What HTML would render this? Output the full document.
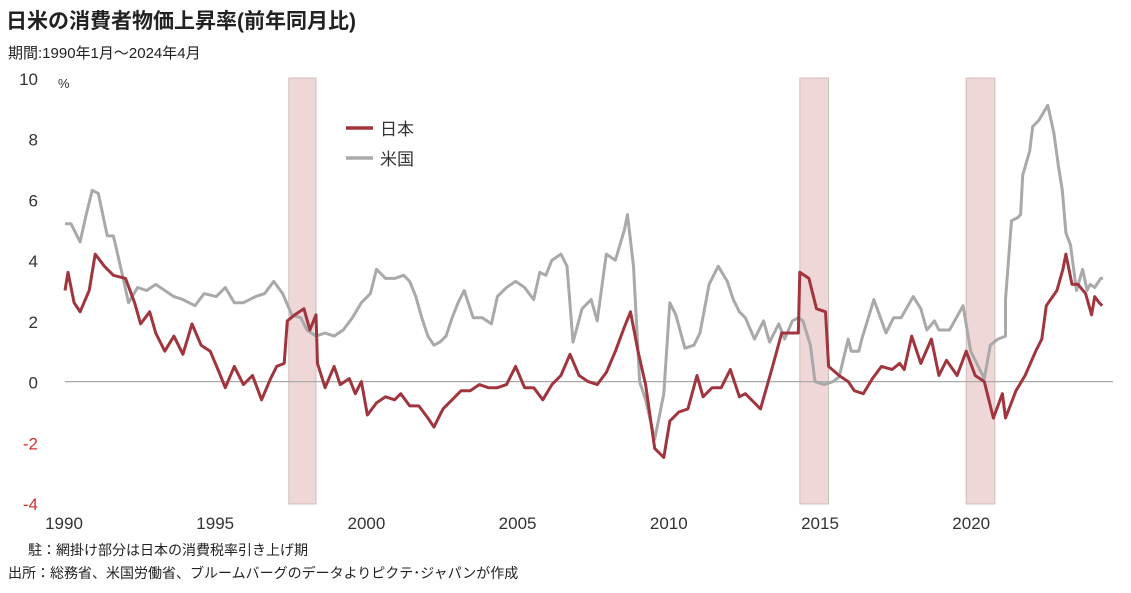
<!DOCTYPE html>
<html><head><meta charset="utf-8">
<style>
body{margin:0;background:#fff;width:1131px;height:588px;overflow:hidden;font-family:"Liberation Sans","Noto Sans CJK JP",sans-serif;}
svg text{font-family:"Liberation Sans","Noto Sans CJK JP",sans-serif;}
</style></head>
<body>
<svg id="chart" width="1131" height="588" viewBox="0 0 1131 588" xmlns="http://www.w3.org/2000/svg">
<text x="6" y="28" font-size="21" font-weight="bold" fill="#222">日米の消費者物価上昇率(前年同月比)</text>
<text x="8" y="58" font-size="15" fill="#222">期間:1990年1月～2024年4月</text>
<g id="bands"></g>
<g id="axes"></g>
<g id="series"></g>
<g>
<line x1="346" y1="128" x2="373" y2="128" stroke="#a0353d" stroke-width="3.5"/>
<text x="380" y="135" font-size="17" fill="#333">日本</text>
<line x1="346" y1="158" x2="373" y2="158" stroke="#aaa" stroke-width="3.5"/>
<text x="380" y="165" font-size="17" fill="#333">米国</text>
</g>
<text x="28" y="555" font-size="14" fill="#222">駐：網掛け部分は日本の消費税率引き上げ期</text>
<text x="8" y="578" font-size="14" fill="#222">出所：総務省、米国労働省、ブルームバーグのデータよりピクテ･ジャパンが作成</text>
</svg>
<script>
const yTicks=[10,8,6,4,2,0,-2,-4];
const xTicks=[1990,1995,2000,2005,2010,2015,2020];
const bands=[[1997.4,1998.3],[2014.3,2015.25],[2019.8,2020.75]];
const jpYears=[1990.0,1990.1,1990.3,1990.5,1990.8,1991.0,1991.3,1991.6,1992.0,1992.3,1992.5,1992.8,1993.0,1993.3,1993.6,1993.9,1994.2,1994.5,1994.8,1995.1,1995.3,1995.6,1995.9,1996.2,1996.5,1996.8,1997.0,1997.25,1997.35,1997.6,1997.9,1998.1,1998.3,1998.35,1998.6,1998.9,1999.1,1999.4,1999.6,1999.8,2000.0,2000.3,2000.6,2000.9,2001.1,2001.4,2001.7,2002.0,2002.2,2002.5,2002.8,2003.1,2003.4,2003.7,2004.0,2004.3,2004.6,2004.9,2005.2,2005.5,2005.8,2006.1,2006.4,2006.7,2007.0,2007.3,2007.6,2007.9,2008.2,2008.5,2008.7,2008.95,2009.2,2009.5,2009.8,2010.0,2010.3,2010.6,2010.9,2011.1,2011.4,2011.7,2012.0,2012.3,2012.5,2013.0,2013.4,2013.7,2014.25,2014.3,2014.6,2014.85,2015.15,2015.25,2015.6,2015.9,2016.1,2016.4,2016.7,2017.0,2017.35,2017.6,2017.75,2018.0,2018.3,2018.65,2018.9,2019.15,2019.5,2019.8,2020.1,2020.4,2020.7,2021.0,2021.1,2021.45,2021.75,2022.1,2022.3,2022.45,2022.8,2023.0,2023.1,2023.3,2023.5,2023.75,2023.95,2024.05,2024.2,2024.3];
const jpValues=[3.0,3.6,2.6,2.3,3.0,4.2,3.8,3.5,3.4,2.6,1.9,2.3,1.6,1.0,1.5,0.9,1.9,1.2,1.0,0.3,-0.2,0.5,-0.1,0.2,-0.6,0.1,0.5,0.6,2.0,2.2,2.4,1.7,2.2,0.6,-0.2,0.5,-0.1,0.1,-0.4,0.0,-1.1,-0.7,-0.5,-0.6,-0.4,-0.8,-0.8,-1.2,-1.5,-0.9,-0.6,-0.3,-0.3,-0.1,-0.2,-0.2,-0.1,0.5,-0.2,-0.2,-0.6,-0.1,0.2,0.9,0.2,0.0,-0.1,0.3,1.0,1.8,2.3,1.0,-0.1,-2.2,-2.5,-1.3,-1.0,-0.9,0.2,-0.5,-0.2,-0.2,0.4,-0.5,-0.4,-0.9,0.5,1.6,1.6,3.6,3.4,2.4,2.3,0.5,0.2,0.0,-0.3,-0.4,0.1,0.5,0.4,0.6,0.4,1.5,0.6,1.4,0.2,0.7,0.2,1.0,0.2,0.0,-1.2,-0.4,-1.2,-0.3,0.2,1.0,1.4,2.5,3.0,3.7,4.2,3.2,3.2,2.9,2.2,2.8,2.6,2.5];
const usYears=[1990.0,1990.2,1990.5,1990.7,1990.9,1991.1,1991.4,1991.6,1991.9,1992.1,1992.4,1992.7,1993.0,1993.3,1993.6,1993.9,1994.3,1994.6,1995.0,1995.3,1995.6,1995.9,1996.3,1996.6,1996.9,1997.2,1997.5,1997.8,1998.0,1998.3,1998.6,1998.9,1999.2,1999.5,1999.8,2000.1,2000.3,2000.6,2000.9,2001.2,2001.4,2001.6,2001.8,2002.0,2002.2,2002.4,2002.6,2002.8,2003.0,2003.2,2003.5,2003.8,2004.1,2004.3,2004.6,2004.9,2005.2,2005.5,2005.7,2005.9,2006.1,2006.4,2006.6,2006.8,2007.1,2007.4,2007.6,2007.9,2008.2,2008.5,2008.6,2008.8,2009.0,2009.2,2009.5,2009.8,2010.0,2010.2,2010.5,2010.8,2011.0,2011.3,2011.6,2011.9,2012.1,2012.3,2012.5,2012.8,2013.1,2013.3,2013.6,2013.8,2014.05,2014.25,2014.4,2014.65,2014.8,2015.1,2015.4,2015.6,2015.9,2016.0,2016.25,2016.35,2016.75,2017.15,2017.4,2017.65,2018.05,2018.3,2018.5,2018.75,2018.9,2019.25,2019.7,2019.95,2020.4,2020.6,2020.85,2021.1,2021.1,2021.3,2021.5,2021.6,2021.67,2021.9,2022.0,2022.2,2022.5,2022.7,2022.85,2022.98,2023.1,2023.25,2023.45,2023.65,2023.8,2023.9,2024.05,2024.25,2024.33];
const usValues=[5.2,5.2,4.6,5.5,6.3,6.2,4.8,4.8,3.5,2.6,3.1,3.0,3.2,3.0,2.8,2.7,2.5,2.9,2.8,3.1,2.6,2.6,2.8,2.9,3.3,2.9,2.2,2.1,1.7,1.5,1.6,1.5,1.7,2.1,2.6,2.9,3.7,3.4,3.4,3.5,3.3,2.8,2.1,1.5,1.2,1.3,1.5,2.1,2.6,3.0,2.1,2.1,1.9,2.8,3.1,3.3,3.1,2.7,3.6,3.5,4.0,4.2,3.8,1.3,2.4,2.7,2.0,4.2,4.0,5.0,5.5,3.8,0.0,-0.6,-1.9,-0.4,2.6,2.2,1.1,1.2,1.6,3.2,3.8,3.3,2.7,2.3,2.1,1.4,2.0,1.3,1.9,1.4,2.0,2.1,2.0,1.2,0.0,-0.1,0.0,0.15,1.4,1.0,1.0,1.4,2.7,1.6,2.1,2.1,2.8,2.4,1.7,2.0,1.7,1.7,2.5,1.0,0.1,1.2,1.4,1.5,2.7,5.3,5.4,5.5,6.8,7.6,8.4,8.6,9.1,8.2,7.1,6.3,4.9,4.5,3.0,3.7,3.0,3.2,3.1,3.4,3.4];

const X0=65,PX=30.24,Y0=381.6,PY=30.36;
const xs=y=>X0+(y-1990)*PX;
const ys=v=>Y0-v*PY;
const NS="http://www.w3.org/2000/svg";
function mk(tag,attrs,parent){const e=document.createElementNS(NS,tag);for(const k in attrs)e.setAttribute(k,attrs[k]);parent.appendChild(e);return e;}
const gB=document.getElementById('bands'),gA=document.getElementById('axes'),gS=document.getElementById('series');
bands.forEach(b=>{
  const r=mk('rect',{x:xs(b[0]),y:78,width:xs(b[1])-xs(b[0]),height:426,fill:'#efd6d7',stroke:'#c9b3b4','stroke-width':0.8},gB);
  
  
});
const base=mk('line',{x1:X0,x2:1113,y1:ys(0),y2:ys(0),stroke:'#aaa','stroke-width':1.3},gA);


yTicks.forEach(t=>{
  const tx=mk('text',{x:38,y:ys(t)+7,'font-size':17,'text-anchor':'end',fill:t<0?'#d0312d':'#333'},gA);
  tx.textContent=t;
  
  
});
const pct=mk('text',{x:58,y:88,'font-size':13,fill:'#333'},gA);pct.textContent='%';


xTicks.forEach(t=>{
  const tx=mk('text',{x:xs(t)-1,y:529,'font-size':17,'text-anchor':'middle',fill:'#333'},gA);
  tx.textContent=t;
  
  
});
function line(yrs,vals,col,name){
  const d=yrs.map((y,i)=>(i?'L':'M')+xs(y).toFixed(1)+' '+ys(vals[i]).toFixed(1)).join(' ');
  const p=mk('path',{d:d,fill:'none',stroke:col,'stroke-width':3,'stroke-linejoin':'round'},gS);
  
  
}
line(usYears,usValues,'#a9a9a9','us-cpi-line');
line(jpYears,jpValues,'#a0353d','japan-cpi-line');
</script>
</body></html>
